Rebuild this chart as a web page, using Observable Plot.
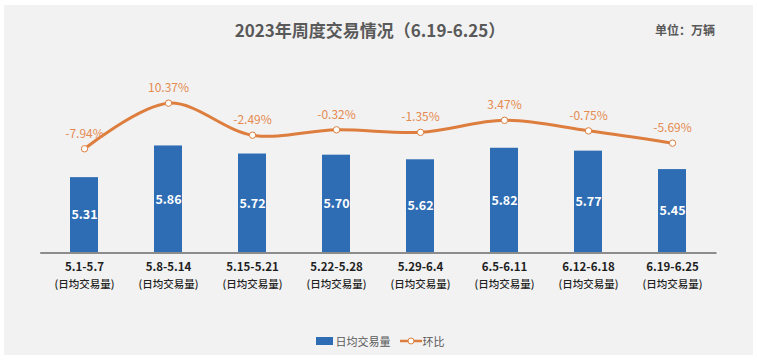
<!DOCTYPE html>
<html>
<head>
<meta charset="utf-8">
<script src="https://cdn.jsdelivr.net/npm/d3@7"></script>
<script src="https://cdn.jsdelivr.net/npm/@observablehq/plot@0.6"></script>
<style>
  html, body { margin: 0; padding: 0; background: #ffffff; }
  body { width: 757px; height: 360px; position: relative; overflow: hidden; font-family: "Noto Sans CJK SC", "Noto Sans", sans-serif; }
  #box { position: absolute; left: 4px; top: 5px; width: 749px; height: 350px; background: #f2f2f2; }
  #title { position: absolute; left: 0; top: 19px; width: 740px; text-align: center; font-size: 17px; font-weight: bold; color: #595959; line-height: 22px; }
  #unit { position: absolute; left: 655px; top: 21px; font-size: 12px; font-weight: bold; color: #595959; line-height: 18px; }
  .plot { position: absolute; left: 0; top: 41px; }
  #legend { position: absolute; left: 0; top: 333px; width: 760px; display: flex; justify-content: center; align-items: center; font-size: 11px; color: #595959; line-height: 16px; }
  #legend .item { display: flex; align-items: center; margin: 0 3px; }
</style>
</head>
<body>
<div id="box"></div>
<div id="title"></div>
<div id="unit"></div>
<div id="bars" class="plot"></div>
<div id="line" class="plot"></div>
<div id="legend"></div>
<script>
const title = "2023年周度交易情况（6.19-6.25）";
const unitLabel = "单位：万辆";
const categories = ["5.1-5.7", "5.8-5.14", "5.15-5.21", "5.22-5.28", "5.29-6.4", "6.5-6.11", "6.12-6.18", "6.19-6.25"];
const volumes = [5.31, 5.86, 5.72, 5.70, 5.62, 5.82, 5.77, 5.45];
const changes = [-7.94, 10.37, -2.49, -0.32, -1.35, 3.47, -0.75, -5.69];
const subLabel = "(日均交易量)";
const seriesNames = ["日均交易量", "环比"];

const data = categories.map((c, i) => ({cat: c, v: volumes[i], pct: changes[i]}));

const BLUE = "#2E6DB4";
const ORANGE = "#DD7E3E";
const ORANGE_TEXT = "#E58A50";
const FONT = "'Noto Sans CJK SC', 'Noto Sans', sans-serif";
const W = 757, H = 260, MT = 10, MB = 48.4, ML = 40.2, MR = 40.5;
const yBase = 4;
const xOpts = {domain: categories, paddingInner: 0.666, paddingOuter: 0.333};

document.getElementById("title").textContent = title;
document.getElementById("unit").textContent = unitLabel;

const bars = Plot.plot({
  width: W, height: H,
  marginTop: MT, marginBottom: MB, marginLeft: ML, marginRight: MR,
  style: {background: "transparent", fontFamily: FONT, overflow: "visible"},
  x: {...xOpts, axis: null, label: null},
  y: {domain: [yBase, 7.5], axis: null},
  marks: [
    Plot.barY(data, {x: "cat", y1: yBase, y2: "v", fill: BLUE}),
    Plot.ruleY([yBase], {stroke: "#8c8c8c", strokeWidth: 2}),
    Plot.text(data, {x: "cat", y: d => (d.v + yBase) / 2, text: d => d.v.toFixed(2), fill: "#ffffff", fontSize: 12.5, fontWeight: "bold"}),
    Plot.axisX({anchor: "bottom", tickSize: 0, tickPadding: 10, fontSize: 11.5, fontWeight: "bold", fill: "#1f1f1f", label: null}),
    Plot.axisX({anchor: "bottom", tickSize: 0, tickPadding: 27, fontSize: 10.5, fontWeight: 500, fill: "#222222", tickFormat: () => subLabel, label: null})
  ]
});
document.getElementById("bars").appendChild(bars);

const line = Plot.plot({
  width: W, height: H,
  marginTop: MT, marginBottom: MB, marginLeft: ML, marginRight: MR,
  style: {background: "transparent", fontFamily: FONT, overflow: "visible"},
  x: {...xOpts, axis: null, label: null},
  y: {domain: [-49.84, 31.12], axis: null},
  marks: [
    Plot.line(data, {x: "cat", y: "pct", stroke: ORANGE, strokeWidth: 3, curve: "catmull-rom"}),
    Plot.dot(data, {x: "cat", y: "pct", r: 3.2, fill: "#ffffff", stroke: ORANGE, strokeWidth: 1}),
    Plot.text(data, {x: "cat", y: "pct", dy: -15, text: d => d.pct.toFixed(2) + "%", fill: ORANGE_TEXT, fontSize: 12})
  ]
});
document.getElementById("line").appendChild(line);

// legend
const legend = document.getElementById("legend");
legend.innerHTML = `
  <div class="item"><svg width="17" height="8" style="margin-right:3px"><rect width="17" height="8" fill="${BLUE}"/></svg><span>${seriesNames[0]}</span></div>
  <div class="item" style="margin-left:6px"><svg width="22" height="10" style="margin-right:1px"><line x1="0" y1="5" x2="22" y2="5" stroke="${ORANGE}" stroke-width="2.5"/><circle cx="11" cy="5" r="3" fill="#fff" stroke="${ORANGE}" stroke-width="1"/></svg><span>${seriesNames[1]}</span></div>
`;
</script>
</body>
</html>
